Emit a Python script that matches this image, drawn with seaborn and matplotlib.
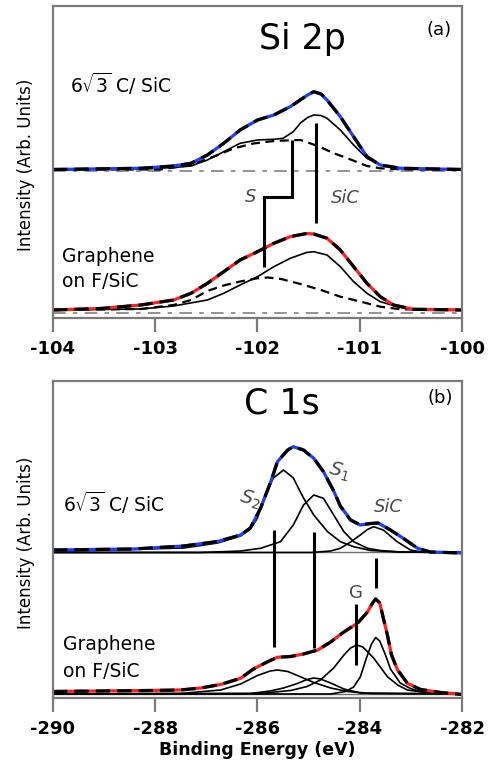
import matplotlib
matplotlib.use("Agg")
import matplotlib.pyplot as plt
import seaborn as sns
import numpy as np

# ---------------- Panel (a): Si 2p ----------------
a_top_x = [-104.00, -103.14, -102.82, -102.65, -102.49, -102.33, -102.17, -102.00, -101.84,
           -101.68, -101.51, -101.45, -101.38, -101.32, -101.19, -101.06, -100.93, -100.80,
           -100.60, -100.00]
a_top_tot = [148.5, 149.7, 152, 154.7, 163, 174.7, 188, 198, 203, 211.3, 223, 226.3, 224,
             218, 201.3, 181.3, 161.3, 153, 149.7, 148.5]

a_top_sic_x = [-104.00, -103.14, -102.82, -102.65, -102.49, -102.33, -102.17, -102.00, -101.84,
               -101.75, -101.65, -101.58, -101.51, -101.45, -101.38, -101.32, -101.19, -101.06,
               -100.93, -100.80, -100.67, -100.41, -100.00]
a_top_sic = [148.5, 149, 150.5, 152, 158, 166.3, 174.7, 178, 178.7, 179.7, 186.3, 195, 200.5,
             203, 202.5, 199.7, 188, 173, 159.7, 153, 150.3, 148.7, 148.5]

a_top_s_x = [-104.00, -102.95, -102.65, -102.43, -102.23, -102.04, -101.84, -101.68, -101.58,
             -101.41, -101.26, -101.09, -100.93, -100.80, -100.60, -100.00]
a_top_s = [148.5, 148.5, 153, 161.3, 169.7, 174.5, 177, 177.7, 178, 172, 165, 158.5, 152,
           149.7, 148.7, 148.5]

a_bot_x = [-104.00, -103.53, -103.14, -102.82, -102.65, -102.49, -102.33, -102.17, -102.00,
           -101.84, -101.68, -101.52, -101.45, -101.32, -101.19, -101.06, -100.93, -100.80,
           -100.67, -100.48, -100.00]
a_bot_tot = [8, 9.5, 13, 18, 24.7, 34.7, 46.3, 58, 66.3, 74.7, 81.3, 84.5, 84, 79.7, 68, 51.3,
             34.7, 21.3, 13, 8.7, 8]

a_bot_sic_x = [-104.00, -103.14, -102.82, -102.49, -102.33, -102.17, -102.00, -101.84, -101.68,
               -101.52, -101.45, -101.32, -101.19, -101.06, -100.93, -100.80, -100.63, -100.44,
               -100.00]
a_bot_sic = [8, 9, 12, 18, 24.7, 33, 41.3, 51.3, 59.7, 65.5, 66.3, 63, 51.3, 36.3, 24.7, 16.3,
             11.3, 8.7, 8]

a_bot_s_x = [-104.00, -103.14, -102.82, -102.65, -102.49, -102.33, -102.17, -102.00, -101.90,
             -101.77, -101.58, -101.38, -101.19, -100.99, -100.80, -100.60, -100.00]
a_bot_s = [8, 9, 13, 18, 27, 32.5, 36.5, 39.7, 40.5, 39, 34, 28, 21.3, 16.3, 11.3, 8.7, 8]

a_bg_levels = [147, 5]

# marker lines (a): SiC straight line, S stepped line
a_sic_mark_x = [-101.43, -101.43]
a_sic_mark_y = [95, 195]
a_s_mark_x = [-101.66, -101.66, -101.94, -101.94]
a_s_mark_y = [178, 121, 121, 51]

# ---------------- Panel (b): C 1s ----------------
b_top_x = [-290.0, -288.42, -287.44, -286.78, -286.33, -286.14, -285.94, -285.74, -285.61,
           -285.41, -285.30, -285.10, -284.90, -284.71, -284.51, -284.38, -284.18, -283.99,
           -283.79, -283.64, -283.40, -283.15, -282.87, -282.62, -282.00]
b_top_tot = [148, 149, 152, 156.5, 163, 170, 189.7, 216.3, 236.3, 248, 251.3, 248, 239.7,
             226.3, 207, 192, 178, 173, 174.5, 175, 168, 159.7, 149.7, 146, 145]

b_top_s2_x = [-290.0, -287.44, -286.78, -286.33, -286.14, -286.00, -285.88, -285.69, -285.49,
              -285.30, -285.10, -284.90, -284.63, -284.38, -284.12, -283.79, -283.21, -282.00]
b_top_s2 = [146.5, 150, 155, 162, 169, 180, 199, 220, 228, 220, 200, 183, 166.3, 156.3, 151.3,
            147.5, 146, 145.5]

b_top_s1_x = [-290.0, -287.11, -286.33, -285.94, -285.55, -285.30, -285.10, -284.90, -284.71,
              -284.51, -284.31, -284.12, -283.85, -283.60, -283.21, -282.00]
b_top_s1 = [145.5, 145.5, 147, 149.7, 156.3, 173, 193, 203, 199.7, 183, 166.3, 156.3, 149.7,
            147.5, 146, 145.5]

b_top_sic_x = [-290.0, -284.96, -284.57, -284.38, -284.18, -283.99, -283.85, -283.73, -283.54,
               -283.27, -283.01, -282.76, -282.00]
b_top_sic = [145.5, 145.5, 147, 149.7, 156, 163, 168.5, 171.3, 168, 156.3, 148, 145.7, 145.5]

b_bot_x = [-290.0, -288.09, -287.50, -287.11, -286.72, -286.33, -286.08, -285.80, -285.61,
           -285.35, -285.10, -284.82, -284.57, -284.31, -284.04, -283.85, -283.75, -283.69,
           -283.61, -283.54, -283.46, -283.38, -283.26, -283.07, -282.81, -282.42, -282.00]
b_bot_tot = [6.5, 7.5, 8, 10, 13.5, 19.7, 29, 36.3, 40.7, 41.5, 44, 48, 56, 66, 75, 86, 95, 99,
             95, 80, 63, 43, 28, 14.7, 8.5, 5.5, 3.5]

b_bot_s2_x = [-290.0, -287.50, -286.72, -286.33, -286.00, -285.75, -285.61, -285.41, -285.22,
              -284.90, -284.57, -284.24, -283.79, -282.00]
b_bot_s2 = [4, 4.5, 8, 14, 22.5, 27, 28, 26.5, 22.5, 15.5, 10, 6.5, 4.5, 4]

b_bot_s1_x = [-290.0, -286.14, -285.75, -285.49, -285.22, -285.03, -284.90, -284.77, -284.57,
              -284.31, -283.99, -282.00]
b_bot_s1 = [4, 4.5, 7, 10, 14.5, 18.5, 20, 19, 15, 9, 5, 4]

b_bot_g_x = [-290.0, -285.94, -285.35, -285.03, -284.77, -284.51, -284.31, -284.18, -284.06,
             -283.94, -283.73, -283.46, -283.26, -283.07, -282.62, -282.00]
b_bot_g = [4, 4.5, 7.5, 11.5, 18, 30, 43, 50, 53, 51, 40, 21.3, 13, 8, 4.7, 4]

b_bot_sic_x = [-290.0, -284.57, -284.28, -284.12, -283.99, -283.87, -283.77, -283.69, -283.61,
               -283.49, -283.40, -283.21, -283.01, -282.82, -282.42, -282.00]
b_bot_sic = [4, 4, 6.5, 11, 21, 40, 54, 60.5, 57, 42, 29, 15, 9.5, 6.5, 4.7, 4]

b_base_levels = [145.5, 4]

# marker lines (b): (x, y0, y1)
b_marks_x = [-285.67, -284.89, -283.69, -284.07]
b_marks_y0 = [51, 50, 110, 33]
b_marks_y1 = [168, 166, 140, 94]

a_ticks = [-104, -103, -102, -101, -100]
b_ticks = [-290, -288, -286, -284, -282]

# ---------------- Drawing ----------------
sns.set_theme(style="white")
plt.rcParams['font.family'] = ['DejaVu Sans']
plt.rcParams['mathtext.fontset'] = 'dejavusans'
plt.rcParams['text.color'] = 'black'
plt.rcParams['axes.labelcolor'] = 'black'
plt.rcParams['xtick.labelcolor'] = 'black'

fig = plt.figure(figsize=(4.9, 7.79), dpi=100)
axA = fig.add_axes([0.108, 0.5918, 0.835, 0.4005])
axB = fig.add_axes([0.108, 0.1040, 0.835, 0.4069])

SPINE = '#7a7a7a'
BLUE = '#1f3cff'
RED = '#ff1f1f'
LBL = '#4a4a4a'
TOT_DASH = (0, (4.5, 2.2))
COMP_DASH = (0, (4, 2.5))


def total(ax, x, y, color):
    sns.lineplot(x=x, y=y, ax=ax, color=color, lw=2.3, sort=False, estimator=None)
    sns.lineplot(x=x, y=y, ax=ax, color='black', lw=2.3, linestyle=TOT_DASH, sort=False,
                 estimator=None)


def comp(ax, x, y, dashed=False, lw=1.2):
    sns.lineplot(x=x, y=y, ax=ax, color='black', lw=lw,
                 linestyle=COMP_DASH if dashed else '-', sort=False, estimator=None)


# Panel a
for lvl in a_bg_levels:
    axA.axhline(lvl, color='#8a8a8a', lw=1.3, linestyle=(0, (7, 4, 2.5, 4)))
comp(axA, a_top_s_x, a_top_s, dashed=True, lw=1.6)
comp(axA, a_top_sic_x, a_top_sic)
total(axA, a_top_x, a_top_tot, BLUE)
comp(axA, a_bot_s_x, a_bot_s, dashed=True, lw=1.6)
comp(axA, a_bot_sic_x, a_bot_sic)
total(axA, a_bot_x, a_bot_tot, RED)
axA.plot(a_sic_mark_x, a_sic_mark_y, color='black', lw=2.2, solid_capstyle='butt')
axA.plot(a_s_mark_x, a_s_mark_y, color='black', lw=2.2, solid_joinstyle='miter',
         solid_capstyle='butt')

axA.set_xlim(-104, -100)
axA.set_ylim(0, 312)

axA.text(-102.07, 121, 'S', color=LBL, fontsize=13, style='italic',
         ha='center', va='center')
axA.text(-101.14, 120, 'SiC', color=LBL, fontsize=13, style='italic',
         ha='center', va='center')
axA.text(0.611, 0.862, 'Si 2p', transform=axA.transAxes, fontsize=25, ha='center',
         va='baseline')
axA.text(0.944, 0.923, '(a)', transform=axA.transAxes, fontsize=13, ha='center',
         va='center')
axA.text(0.041, 0.72, r'6$\sqrt{3}$ C/ SiC', transform=axA.transAxes, fontsize=13.5,
         ha='left', va='baseline')
axA.text(0.022, 0.180, 'Graphene', transform=axA.transAxes, fontsize=13.5, ha='left',
         va='baseline')
axA.text(0.022, 0.098, 'on F/SiC', transform=axA.transAxes, fontsize=13.5, ha='left',
         va='baseline')

# Panel b
for lvl in b_base_levels:
    axB.axhline(lvl, color='#6a6a6a', lw=1.0)
comp(axB, b_top_s2_x, b_top_s2)
comp(axB, b_top_s1_x, b_top_s1)
comp(axB, b_top_sic_x, b_top_sic)
total(axB, b_top_x, b_top_tot, BLUE)
comp(axB, b_bot_s2_x, b_bot_s2)
comp(axB, b_bot_s1_x, b_bot_s1)
comp(axB, b_bot_g_x, b_bot_g)
comp(axB, b_bot_sic_x, b_bot_sic)
total(axB, b_bot_x, b_bot_tot, RED)
for xm, y0, y1 in zip(b_marks_x, b_marks_y0, b_marks_y1):
    axB.plot([xm, xm], [y0, y1], color='black', lw=2.2, solid_capstyle='butt')

axB.set_xlim(-290, -282)
axB.set_ylim(0, 317)

axB.text(-286.14, 198, r'$S_2$', color=LBL, fontsize=14, ha='center', va='center',
         rotation=-15)
axB.text(-284.41, 226, r'$S_1$', color=LBL, fontsize=14, ha='center', va='center',
         rotation=-15)
axB.text(-283.44, 191, 'SiC', color=LBL, fontsize=13, style='italic', ha='center',
         va='center')
axB.text(-284.08, 105, 'G', color=LBL, fontsize=13, ha='center', va='center')
axB.text(0.56, 0.896, 'C 1s', transform=axB.transAxes, fontsize=25, ha='center',
         va='baseline')
axB.text(0.946, 0.946, '(b)', transform=axB.transAxes, fontsize=13, ha='center',
         va='center')
axB.text(0.024, 0.586, r'6$\sqrt{3}$ C/ SiC', transform=axB.transAxes, fontsize=13.5,
         ha='left', va='baseline')
axB.text(0.024, 0.151, 'Graphene', transform=axB.transAxes, fontsize=13.5, ha='left',
         va='baseline')
axB.text(0.024, 0.067, 'on F/SiC', transform=axB.transAxes, fontsize=13.5, ha='left',
         va='baseline')

for ax, ticks in ((axA, a_ticks), (axB, b_ticks)):
    ax.set_xticks(ticks)
    ax.set_xticklabels([f'{t:d}' for t in ticks], fontsize=13, fontweight='bold')
    ax.set_yticks([])
    ax.tick_params(axis='x', direction='out', length=10, width=1.6, color=SPINE, pad=6,
                   bottom=True, labelcolor='black')
    for sp in ax.spines.values():
        sp.set_color(SPINE)
        sp.set_linewidth(1.6)
    ax.set_ylabel('Intensity (Arb. Units)', fontsize=12, color='black')
    ax.yaxis.set_label_coords(-0.045, 0.49)
    ax.set_xlabel('')

axB.set_xlabel('Binding Energy (eV)', fontsize=12.5, fontweight='bold', labelpad=2,
               color='black')

fig.savefig('out.png', dpi=100)
